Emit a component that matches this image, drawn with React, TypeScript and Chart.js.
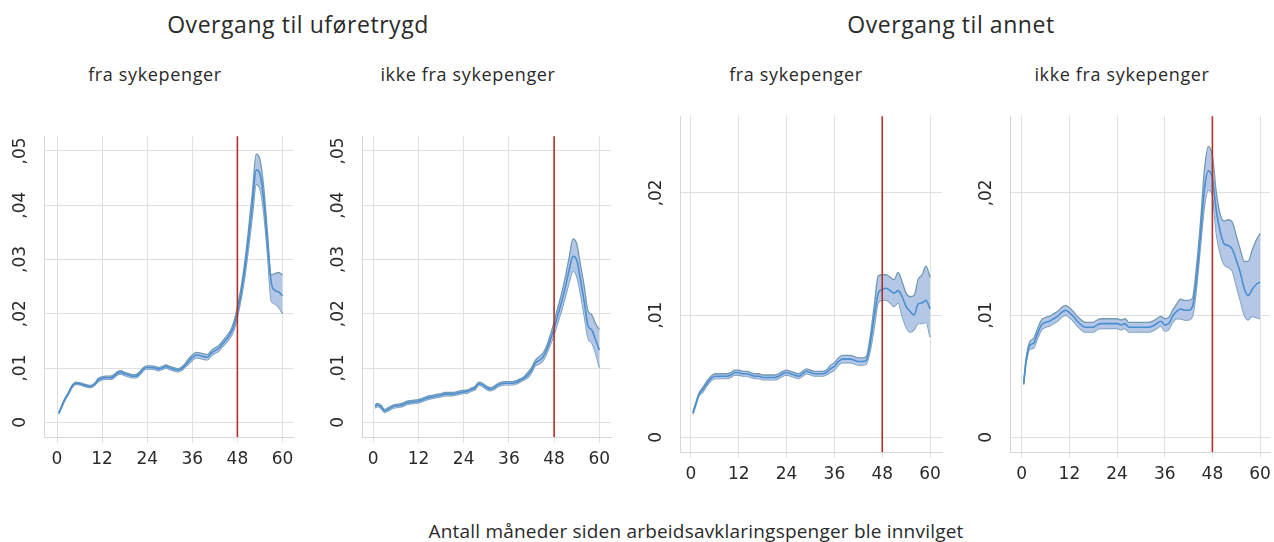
import React, { useEffect, useRef } from "react";
import { Chart, registerables } from "chart.js";
Chart.register(...registerables);

// ---------- data ----------
const months = [0.5, 1, 2, 3, 4, 5, 6, 7, 8, 9, 10,
  11, 12, 13, 14, 15, 16, 17, 18, 19, 20,
  21, 22, 23, 24, 25, 26, 27, 28, 29, 30,
  31, 32, 33, 34, 35, 36, 37, 38, 39, 40,
  41, 42, 43, 44, 45, 46, 47, 48, 49, 50,
  51, 52, 53, 54, 55, 56, 57, 58, 59, 60];

const xTicks = [0, 12, 24, 36, 48, 60];
const xTickLabels = ["0", "12", "24", "36", "48", "60"];
const yTicksUfore = [0, 0.01, 0.02, 0.03, 0.04, 0.05];
const yTickLabelsUfore = ["0", ",01", ",02", ",03", ",04", ",05"];
const yTicksAnnet = [0, 0.01, 0.02];
const yTickLabelsAnnet = ["0", ",01", ",02"];
const cutoffMonth = 48;

const groupTitles = ["Overgang til uføretrygd", "Overgang til annet"];
const panelTitles = ["fra sykepenger", "ikke fra sykepenger", "fra sykepenger", "ikke fra sykepenger"];
const xAxisTitle = "Antall måneder siden arbeidsavklaringspenger ble innvilget";

// Overgang til uføretrygd – fra sykepenger
const p1Mean = [0.0017, 0.0025, 0.0041, 0.0053, 0.0066, 0.0072, 0.0071, 0.0069, 0.0067, 0.0066, 0.0070,
  0.0078, 0.0081, 0.0082, 0.0082, 0.0084, 0.0090, 0.0092, 0.0089, 0.0087, 0.0085,
  0.0085, 0.0090, 0.0098, 0.0101, 0.0101, 0.0100, 0.0098, 0.0100, 0.0103, 0.0100,
  0.0098, 0.0096, 0.0098, 0.0104, 0.0112, 0.0119, 0.0124, 0.0123, 0.0121, 0.0120,
  0.0127, 0.0132, 0.0136, 0.0144, 0.0152, 0.0161, 0.0176, 0.0203, 0.0238, 0.0283,
  0.0340, 0.0402, 0.0465, 0.0457, 0.0410, 0.0330, 0.0258, 0.0243, 0.0240, 0.0233];
const p1Lo = [0.0015, 0.0023, 0.0039, 0.0051, 0.0064, 0.0070, 0.0069, 0.0067, 0.0065, 0.0064, 0.0068,
  0.0075, 0.0078, 0.0079, 0.0079, 0.0081, 0.0087, 0.0089, 0.0086, 0.0084, 0.0082,
  0.0082, 0.0087, 0.0095, 0.0098, 0.0098, 0.0097, 0.0095, 0.0097, 0.0100, 0.0097,
  0.0095, 0.0093, 0.0095, 0.0101, 0.0107, 0.0114, 0.0119, 0.0118, 0.0116, 0.0115,
  0.0122, 0.0127, 0.0131, 0.0139, 0.0146, 0.0155, 0.0168, 0.0194, 0.0227, 0.0269,
  0.0322, 0.0380, 0.0438, 0.0430, 0.0386, 0.0310, 0.0224, 0.0218, 0.0212, 0.0200];
const p1Hi = [0.0019, 0.0027, 0.0043, 0.0055, 0.0068, 0.0074, 0.0073, 0.0071, 0.0069, 0.0068, 0.0072,
  0.0081, 0.0084, 0.0085, 0.0085, 0.0087, 0.0093, 0.0095, 0.0092, 0.0090, 0.0088,
  0.0088, 0.0093, 0.0101, 0.0104, 0.0104, 0.0103, 0.0101, 0.0103, 0.0106, 0.0103,
  0.0101, 0.0099, 0.0101, 0.0107, 0.0117, 0.0124, 0.0129, 0.0128, 0.0126, 0.0125,
  0.0132, 0.0137, 0.0141, 0.0149, 0.0158, 0.0167, 0.0184, 0.0212, 0.0249, 0.0297,
  0.0358, 0.0424, 0.0494, 0.0484, 0.0434, 0.0350, 0.0272, 0.0274, 0.0276, 0.0271];

// Overgang til uføretrygd – ikke fra sykepenger
const p2Mean = [0.0029, 0.0032, 0.0029, 0.0021, 0.0024, 0.0028, 0.0030, 0.0031, 0.0033, 0.0036, 0.0037,
  0.0038, 0.0039, 0.0041, 0.0044, 0.0046, 0.0047, 0.0049, 0.0050, 0.0052, 0.0052,
  0.0052, 0.0053, 0.0055, 0.0056, 0.0057, 0.0060, 0.0063, 0.0071, 0.0069, 0.0064,
  0.0061, 0.0063, 0.0068, 0.0071, 0.0072, 0.0072, 0.0072, 0.0074, 0.0077, 0.0081,
  0.0087, 0.0096, 0.0109, 0.0114, 0.0120, 0.0133, 0.0152, 0.0173, 0.0198, 0.0222,
  0.0250, 0.0281, 0.0306, 0.0299, 0.0262, 0.0222, 0.0178, 0.0170, 0.0152, 0.0133];
const p2Lo = [0.0026, 0.0029, 0.0026, 0.0018, 0.0021, 0.0025, 0.0027, 0.0028, 0.0030, 0.0033, 0.0034,
  0.0035, 0.0036, 0.0038, 0.0041, 0.0043, 0.0044, 0.0046, 0.0047, 0.0049, 0.0049,
  0.0049, 0.0050, 0.0052, 0.0053, 0.0054, 0.0057, 0.0060, 0.0068, 0.0066, 0.0061,
  0.0058, 0.0060, 0.0065, 0.0068, 0.0069, 0.0069, 0.0069, 0.0071, 0.0074, 0.0078,
  0.0082, 0.0091, 0.0104, 0.0107, 0.0113, 0.0126, 0.0143, 0.0161, 0.0184, 0.0206,
  0.0231, 0.0258, 0.0278, 0.0269, 0.0236, 0.0196, 0.0155, 0.0146, 0.0127, 0.0101];
const p2Hi = [0.0032, 0.0035, 0.0032, 0.0024, 0.0027, 0.0031, 0.0033, 0.0034, 0.0036, 0.0039, 0.0040,
  0.0041, 0.0042, 0.0044, 0.0047, 0.0049, 0.0050, 0.0052, 0.0053, 0.0055, 0.0055,
  0.0055, 0.0056, 0.0058, 0.0059, 0.0060, 0.0063, 0.0066, 0.0074, 0.0072, 0.0067,
  0.0064, 0.0066, 0.0071, 0.0074, 0.0075, 0.0075, 0.0075, 0.0077, 0.0080, 0.0084,
  0.0092, 0.0101, 0.0114, 0.0121, 0.0127, 0.0140, 0.0161, 0.0185, 0.0212, 0.0238,
  0.0269, 0.0304, 0.0338, 0.0329, 0.0290, 0.0250, 0.0205, 0.0198, 0.0182, 0.0171];

// Overgang til annet – fra sykepenger
const p3Mean = [0.0020, 0.0025, 0.0035, 0.0039, 0.0044, 0.0048, 0.0050, 0.0050, 0.0050, 0.0050, 0.0051,
  0.0053, 0.0053, 0.0052, 0.0052, 0.0051, 0.0050, 0.0050, 0.0049, 0.0049, 0.0049,
  0.0049, 0.0050, 0.0052, 0.0053, 0.0052, 0.0051, 0.0050, 0.0052, 0.0054, 0.0053,
  0.0052, 0.0052, 0.0052, 0.0053, 0.0056, 0.0058, 0.0062, 0.0064, 0.0064, 0.0064,
  0.0063, 0.0062, 0.0062, 0.0063, 0.0077, 0.0099, 0.0118, 0.0121, 0.0122, 0.0120,
  0.0118, 0.0120, 0.0115, 0.0107, 0.0103, 0.0100, 0.0109, 0.0110, 0.0112, 0.0105];
const p3Lo = [0.0019, 0.0024, 0.0034, 0.0037, 0.0042, 0.0046, 0.0048, 0.0048, 0.0048, 0.0048, 0.0049,
  0.0051, 0.0051, 0.0050, 0.0050, 0.0049, 0.0048, 0.0048, 0.0047, 0.0047, 0.0047,
  0.0047, 0.0048, 0.0050, 0.0051, 0.0050, 0.0049, 0.0048, 0.0050, 0.0052, 0.0051,
  0.0050, 0.0050, 0.0050, 0.0051, 0.0053, 0.0055, 0.0059, 0.0061, 0.0061, 0.0061,
  0.0060, 0.0059, 0.0059, 0.0060, 0.0071, 0.0090, 0.0110, 0.0112, 0.0112, 0.0110,
  0.0107, 0.0110, 0.0099, 0.0090, 0.0086, 0.0088, 0.0093, 0.0093, 0.0094, 0.0082];
const p3Hi = [0.0021, 0.0026, 0.0036, 0.0041, 0.0046, 0.0050, 0.0052, 0.0052, 0.0052, 0.0052, 0.0053,
  0.0055, 0.0055, 0.0054, 0.0054, 0.0053, 0.0052, 0.0052, 0.0051, 0.0051, 0.0051,
  0.0051, 0.0052, 0.0054, 0.0055, 0.0054, 0.0053, 0.0052, 0.0054, 0.0056, 0.0055,
  0.0054, 0.0054, 0.0054, 0.0055, 0.0059, 0.0061, 0.0065, 0.0067, 0.0067, 0.0067,
  0.0066, 0.0065, 0.0065, 0.0066, 0.0083, 0.0108, 0.0132, 0.0133, 0.0133, 0.0131,
  0.0129, 0.0135, 0.0127, 0.0118, 0.0115, 0.0116, 0.0129, 0.0133, 0.0140, 0.0131];

// Overgang til annet – ikke fra sykepenger
const p4Mean = [0.0044, 0.0060, 0.0075, 0.0077, 0.0085, 0.0092, 0.0094, 0.0095, 0.0097, 0.0099, 0.0102,
  0.0104, 0.0102, 0.0099, 0.0095, 0.0092, 0.0090, 0.0090, 0.0090, 0.0092, 0.0093,
  0.0093, 0.0093, 0.0093, 0.0093, 0.0092, 0.0093, 0.0090, 0.0090, 0.0090, 0.0090,
  0.0090, 0.0090, 0.0091, 0.0093, 0.0095, 0.0092, 0.0093, 0.0099, 0.0103, 0.0105,
  0.0104, 0.0104, 0.0107, 0.0130, 0.0165, 0.0203, 0.0218, 0.0212, 0.0185, 0.0168,
  0.0158, 0.0157, 0.0154, 0.0145, 0.0135, 0.0122, 0.0116, 0.0121, 0.0125, 0.0127];
const p4Lo = [0.0043, 0.0058, 0.0072, 0.0073, 0.0081, 0.0088, 0.0090, 0.0091, 0.0093, 0.0095, 0.0098,
  0.0100, 0.0098, 0.0095, 0.0091, 0.0088, 0.0086, 0.0086, 0.0086, 0.0088, 0.0089,
  0.0089, 0.0089, 0.0089, 0.0089, 0.0088, 0.0089, 0.0086, 0.0086, 0.0086, 0.0086,
  0.0086, 0.0086, 0.0087, 0.0089, 0.0091, 0.0087, 0.0088, 0.0094, 0.0097, 0.0097,
  0.0096, 0.0096, 0.0099, 0.0122, 0.0156, 0.0189, 0.0202, 0.0198, 0.0166, 0.0150,
  0.0141, 0.0139, 0.0136, 0.0124, 0.0112, 0.0100, 0.0096, 0.0099, 0.0098, 0.0097];
const p4Hi = [0.0045, 0.0062, 0.0078, 0.0081, 0.0089, 0.0096, 0.0098, 0.0099, 0.0101, 0.0103, 0.0106,
  0.0108, 0.0106, 0.0103, 0.0099, 0.0096, 0.0094, 0.0094, 0.0094, 0.0096, 0.0097,
  0.0097, 0.0097, 0.0097, 0.0097, 0.0096, 0.0097, 0.0094, 0.0094, 0.0094, 0.0094,
  0.0094, 0.0094, 0.0095, 0.0097, 0.0099, 0.0097, 0.0098, 0.0104, 0.0109, 0.0113,
  0.0112, 0.0112, 0.0114, 0.0140, 0.0176, 0.0219, 0.0238, 0.0230, 0.0200, 0.0182,
  0.0177, 0.0178, 0.0176, 0.0165, 0.0154, 0.0144, 0.0144, 0.0153, 0.0161, 0.0167];

// ---------- styles ----------
const BAND_FILL = "rgba(172, 193, 228, 0.9)";
const BAND_EDGE = "#7199b0";
const MEAN_COLOR = "#4a8fd2";
const CUTOFF_COLOR = "#b0302a";
const GRID_COLOR = "#e0e0e0";
const TEXT_COLOR = "#2a2a2a";
const TICK_FONT = { family: "'DejaVu Sans'", size: 17 };
const Y_AXIS_W = 44;
const X_AXIS_H = 45;
const TOP_GAP = 20; // space Chart.js keeps above the plot area for the top y label
const PAD_RIGHT = 12;

const cutoffPlugin = {
  id: "cutoff",
  afterDatasetsDraw(chart: any) {
    const { ctx, chartArea, scales } = chart;
    const x = scales.x.getPixelForValue(cutoffMonth);
    ctx.save();
    ctx.strokeStyle = CUTOFF_COLOR;
    ctx.lineWidth = 1.6;
    ctx.beginPath();
    ctx.moveTo(x, chartArea.top);
    ctx.lineTo(x, chartArea.bottom);
    ctx.stroke();
    ctx.restore();
  },
};

type PanelProps = {
  areaLeft: number; areaTop: number; areaRight: number; areaBottom: number;
  xMin: number; xMax: number; yMin: number; yMax: number;
  yTicks: number[]; yLabels: string[];
  mean: number[]; lo: number[]; hi: number[];
};

function Panel(p: PanelProps) {
  const ref = useRef<HTMLCanvasElement>(null);
  const left = p.areaLeft - Y_AXIS_W;
  const top = p.areaTop - TOP_GAP;
  const width = p.areaRight - p.areaLeft + Y_AXIS_W + PAD_RIGHT;
  const height = p.areaBottom - p.areaTop + TOP_GAP + X_AXIS_H;
  useEffect(() => {
    if (!ref.current) return;
    const pts = (arr: number[]) => months.map((m, i) => ({ x: m, y: arr[i] }));
    const lineCommon = {
      pointRadius: 0,
      pointHoverRadius: 0,
      tension: 0.4,
      cubicInterpolationMode: "monotone" as const,
    };
    const chart = new Chart(ref.current, {
      type: "line",
      data: {
        datasets: [
          { ...lineCommon, order: 2, data: pts(p.lo), borderColor: BAND_EDGE, borderWidth: 1.3, fill: false },
          { ...lineCommon, order: 1, data: pts(p.hi), borderColor: BAND_EDGE, borderWidth: 1.3, fill: "-1", backgroundColor: BAND_FILL },
          { ...lineCommon, order: 0, data: pts(p.mean), borderColor: MEAN_COLOR, borderWidth: 1.6, fill: false },
        ],
      },
      options: {
        animation: false,
        responsive: false,
        maintainAspectRatio: false,
        events: [],
        layout: { padding: { top: 0, right: PAD_RIGHT, left: 0, bottom: 0 } },
        plugins: { legend: { display: false }, tooltip: { enabled: false }, title: { display: false } },
        scales: {
          x: {
            type: "linear",
            min: p.xMin,
            max: p.xMax,
            afterBuildTicks: (s: any) => { s.ticks = xTicks.map((v) => ({ value: v })); },
            afterFit: (s: any) => { s.height = X_AXIS_H; },
            grid: { color: GRID_COLOR, lineWidth: 1, drawTicks: true, tickLength: 6, tickColor: GRID_COLOR },
            border: { display: true, color: "#d6d6d6", width: 1 },
            ticks: {
              font: TICK_FONT,
              color: TEXT_COLOR,
              padding: 6,
              maxRotation: 0,
              autoSkip: false,
              callback: (v: any) => xTickLabels[xTicks.indexOf(Number(v))] ?? "",
            },
          },
          y: {
            type: "linear",
            min: p.yMin,
            max: p.yMax,
            afterBuildTicks: (s: any) => { s.ticks = p.yTicks.map((v) => ({ value: v })); },
            afterFit: (s: any) => { s.width = Y_AXIS_W; },
            grid: { color: GRID_COLOR, lineWidth: 1, drawTicks: false },
            border: { display: true, color: "#d6d6d6", width: 1 },
            ticks: {
              font: TICK_FONT,
              color: TEXT_COLOR,
              minRotation: 90,
              maxRotation: 90,
              crossAlign: "center",
              padding: 10,
              autoSkip: false,
              callback: (v: any) => {
                const i = p.yTicks.findIndex((t) => Math.abs(t - Number(v)) < 1e-9);
                return i >= 0 ? p.yLabels[i] : "";
              },
            },
          },
        },
      },
      plugins: [cutoffPlugin],
    } as any);
    return () => chart.destroy();
  }, []);
  return (
    <canvas
      ref={ref}
      width={width}
      height={height}
      style={{ position: "absolute", left, top, width, height }}
    />
  );
}

const titleFont = "'Open Sans', sans-serif";

function Label({ text, cx, top, size, spacing }: { text: string; cx: number; top: number; size: number; spacing: number }) {
  return (
    <div
      style={{
        position: "absolute",
        left: cx,
        top,
        transform: "translateX(-50%)",
        whiteSpace: "nowrap",
        fontFamily: titleFont,
        fontSize: size,
        letterSpacing: spacing,
        lineHeight: `${size}px`,
        color: TEXT_COLOR,
      }}
    >
      {text}
    </div>
  );
}

export default function App() {
  return (
    <div
      style={{
        position: "absolute",
        left: 0,
        top: 0,
        width: 1274,
        height: 542,
        overflow: "hidden",
        background: "#ffffff",
      }}
    >
      <Label text={groupTitles[0]} cx={298} top={13} size={23} spacing={0.55} />
      <Label text={groupTitles[1]} cx={951} top={13} size={23} spacing={0.55} />
      <Label text={panelTitles[0]} cx={155} top={65} size={18} spacing={0.65} />
      <Label text={panelTitles[1]} cx={468} top={65} size={18} spacing={0.65} />
      <Label text={panelTitles[2]} cx={796} top={65} size={18} spacing={0.65} />
      <Label text={panelTitles[3]} cx={1122} top={65} size={18} spacing={0.65} />
      <Label text={xAxisTitle} cx={696} top={522} size={19} spacing={0.2} />

      <Panel areaLeft={44} areaTop={136} areaRight={293} areaBottom={437}
        xMin={-3.46} xMax={62.8} yMin={-0.0027} yMax={0.0527}
        yTicks={yTicksUfore} yLabels={yTickLabelsUfore}
        mean={p1Mean} lo={p1Lo} hi={p1Hi} />
      <Panel areaLeft={362} areaTop={136} areaRight={611} areaBottom={437}
        xMin={-2.99} xMax={63.1} yMin={-0.0027} yMax={0.0527}
        yTicks={yTicksUfore} yLabels={yTickLabelsUfore}
        mean={p2Mean} lo={p2Lo} hi={p2Hi} />
      <Panel areaLeft={680} areaTop={116} areaRight={942} areaBottom={452}
        xMin={-2.76} xMax={63.0} yMin={-0.0012} yMax={0.02627}
        yTicks={yTicksAnnet} yLabels={yTickLabelsAnnet}
        mean={p3Mean} lo={p3Lo} hi={p3Hi} />
      <Panel areaLeft={1010} areaTop={116} areaRight={1270} areaBottom={452}
        xMin={-2.95} xMax={62.5} yMin={-0.0012} yMax={0.02627}
        yTicks={yTicksAnnet} yLabels={yTickLabelsAnnet}
        mean={p4Mean} lo={p4Lo} hi={p4Hi} />
    </div>
  );
}
